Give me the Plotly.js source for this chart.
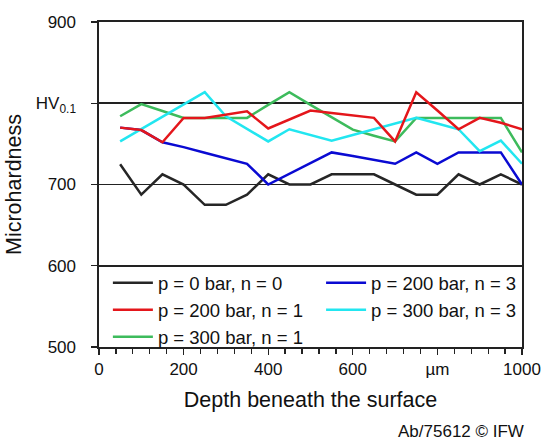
<!DOCTYPE html>
<html>
<head>
<meta charset="utf-8">
<script src="https://cdn.plot.ly/plotly-3.0.1.min.js"></script>
<style>html,body{margin:0;padding:0;background:#fff;}#chart{width:545px;height:444px;}</style>
</head>
<body>
<div id="chart"></div>
<script>
var depth = [50,100,150,200,250,300,350,400,450,500,550,600,650,700,750,800,850,900,950,1000];
var p0n0   = [725,687.5,712.5,700,675,675,687.5,712.5,700,700,712.5,712.5,712.5,700,687.5,687.5,712.5,700,712.5,700];
var p200n1 = [770,767,752,782,782,786,790,769,780,791,788,785,782,753,813.6,791,768,782,776,768];
var p300n1 = [784,799,790.5,782,782,782,782,798,813.6,798,783,767.5,760,753,782,782,782,782,782,739.5];
var p200n3 = [770,767,752,746,739,732.5,725.5,700,713,726,739.5,735,730,725.5,739.5,725.5,739.5,739.5,739.5,700];
var p300n3 = [753,768,784,798,813.6,784,769,753,768,761,754,761,768,775,782,775,768,741,754,725.5];

var xTickVals = [0,200,400,600,800,1000];
var xTickText = ['0','200','400','600','µm','1000'];
var yTickVals = [500,600,700,800,900];
var yTickText = ['500','600','700','HV<sub>0.1</sub>','900'];

var FONT = 'Liberation Sans, Arial, Helvetica, sans-serif';
var INK = '#222222';

function tr(name, y, color, leg, rank) {
  return {x: depth, y: y, name: name, type: 'scatter', mode: 'lines',
          line: {color: color, width: 2.5}, legend: leg, legendrank: rank};
}

var data = [
  tr('p = 0 bar, n = 0',   p0n0,   '#262626', 'legend', 1),
  tr('p = 200 bar, n = 3', p200n3, '#0a0ad2', 'legend2', 1),
  tr('p = 300 bar, n = 1', p300n1, '#3dbb5c', 'legend', 3),
  tr('p = 300 bar, n = 3', p300n3, '#22e6f0', 'legend2', 2),
  tr('p = 200 bar, n = 1', p200n1, '#e4161b', 'legend', 2)
];

function leg(x) {
  return {
    orientation: 'v', x: x, xanchor: 'left', y: 0.255, yanchor: 'top',
    bgcolor: 'rgba(0,0,0,0)', borderwidth: 0, itemwidth: 40,
    font: {family: FONT, size: 18.5, color: '#111'},
    traceorder: 'normal'
  };
}

var layout = {
  width: 545, height: 444,
  margin: {l: 99, r: 23, t: 22, b: 97},
  paper_bgcolor: '#fff', plot_bgcolor: '#fff',
  font: {family: FONT, color: '#111', size: 17},
  showlegend: true,
  legend: leg(0.021),
  legend2: leg(0.525),
  xaxis: {
    range: [0, 1000], tickmode: 'array', tickvals: xTickVals, ticktext: xTickText,
    ticks: 'outside', ticklen: 6, tickwidth: 1.3, tickcolor: INK,
    minor: {dtick: 40, tick0: 0, ticks: 'outside', ticklen: 5, tickwidth: 1.3, tickcolor: INK},
    showline: true, linecolor: INK, linewidth: 1.6, mirror: true,
    showgrid: false, zeroline: false,
    tickfont: {family: FONT, size: 17, color: '#111'},
    title: {text: 'Depth beneath the surface', font: {family: FONT, size: 21.5, color: '#111'}, standoff: 14}
  },
  yaxis: {
    range: [500, 900], tickmode: 'array', tickvals: yTickVals, ticktext: yTickText,
    ticks: 'outside', ticklen: 6, tickwidth: 1.3, tickcolor: INK,
    showline: true, linecolor: INK, linewidth: 1.6, mirror: true,
    showgrid: true, gridcolor: INK, gridwidth: 1.6, zeroline: false,
    ticklabelstandoff: 12,
    tickfont: {family: FONT, size: 17, color: '#111'},
    title: {text: 'Microhardness', font: {family: FONT, size: 21.5, color: '#111'}, standoff: 8}
  },
  annotations: [{
    text: 'Ab/75612 © IFW', xref: 'paper', yref: 'paper', x: 1.01, y: -0.296,
    xanchor: 'right', yanchor: 'bottom', showarrow: false,
    font: {family: FONT, size: 17, color: '#111'}
  }]
};

Plotly.newPlot('chart', data, layout, {displayModeBar: false, staticPlot: true});
</script>
</body>
</html>
